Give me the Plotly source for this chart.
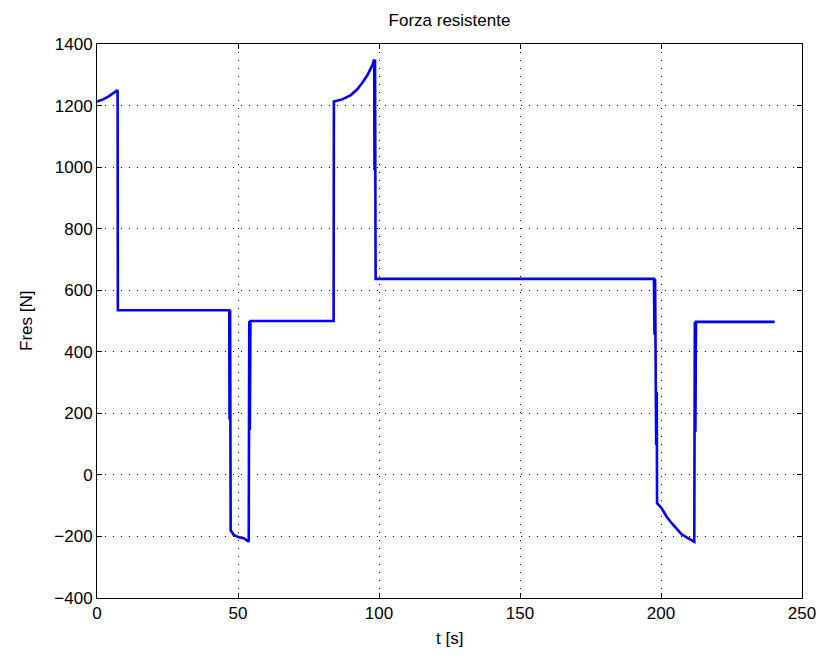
import plotly.graph_objects as go

# Time samples [s]
t_s = [0, 2.2, 4.0, 5.8, 7.3,
       7.4, 46.9,
       47.0, 47.2, 47.4,
       48.5, 50.3, 52.0, 53.8,
       54.0, 54.2, 54.4,
       83.9, 84.0, 87.0, 90.0, 92.3, 94.1, 95.9, 97.7, 98.3,
       98.4, 98.6, 98.8,
       197.5, 197.7, 197.9, 198.1, 198.3, 198.5, 198.6,
       200.2, 202.0, 203.8, 205.6, 207.3, 209.7, 211.8,
       212.0, 212.2, 212.4, 240.3]

# Resistant force [N]
fres_n = [1213, 1220, 1229, 1240, 1250,
          535, 535,
          180, 535, -180,
          -195, -203, -206, -217,
          500, 146, 500,
          500, 1213, 1220, 1234, 1253, 1274, 1299, 1332, 1350,
          990, 1350, 637,
          637, 455, 637, 269, 97, 269, -92,
          -108, -136, -157, -177, -193, -206, -217,
          497, 140, 497, 497]

title_text = "Forza resistente"
x_label = "t [s]"
y_label = "Fres [N]"
x_ticks = [0, 50, 100, 150, 200, 250]
y_ticks = [-400, -200, 0, 200, 400, 600, 800, 1000, 1200, 1400]

FONT = "Liberation Sans, Arial, Helvetica, sans-serif"
W, H = 820, 659
L, R, T, B = 97, 18, 44, 61

fig = go.Figure()
fig.add_trace(go.Scatter(
    x=t_s, y=fres_n, mode="lines",
    line=dict(color="#0000FF", width=2.6),
    showlegend=False,
))

axis_common = dict(
    showline=True, linecolor="black", linewidth=1, mirror="ticks",
    ticks="inside", ticklen=5, tickcolor="black", tickwidth=1,
    showgrid=True, gridcolor="black", gridwidth=1, griddash="1px,7px",
    zeroline=False, automargin=False,
    tickfont=dict(family=FONT, size=17, color="black"),
)

fig.update_layout(
    width=W, height=H,
    paper_bgcolor="white", plot_bgcolor="white",
    margin=dict(l=L, r=R, t=T, b=B, autoexpand=False),
    font=dict(family=FONT, size=17, color="black"),
    title=dict(text=title_text, x=(L + (W - L - R) / 2) / W, xanchor="center",
               y=1 - 20 / H, yanchor="middle", yref="container",
               font=dict(family=FONT, size=17, color="black")),
    xaxis=dict(range=[0, 250], tickvals=x_ticks, **axis_common),
    yaxis=dict(range=[-400, 1400], tickvals=y_ticks, **axis_common),
    annotations=[
        dict(text=x_label, xref="paper", yref="paper", x=0.5, y=-(638 - (H - B)) / (H - T - B),
             xanchor="center", yanchor="middle", showarrow=False,
             font=dict(family=FONT, size=17, color="black")),
        dict(text=y_label, xref="paper", yref="paper", x=-(L - 26) / (W - L - R), y=0.5,
             xanchor="center", yanchor="middle", showarrow=False, textangle=-90,
             font=dict(family=FONT, size=17, color="black")),
    ],
)

fig.write_html("out.html")
